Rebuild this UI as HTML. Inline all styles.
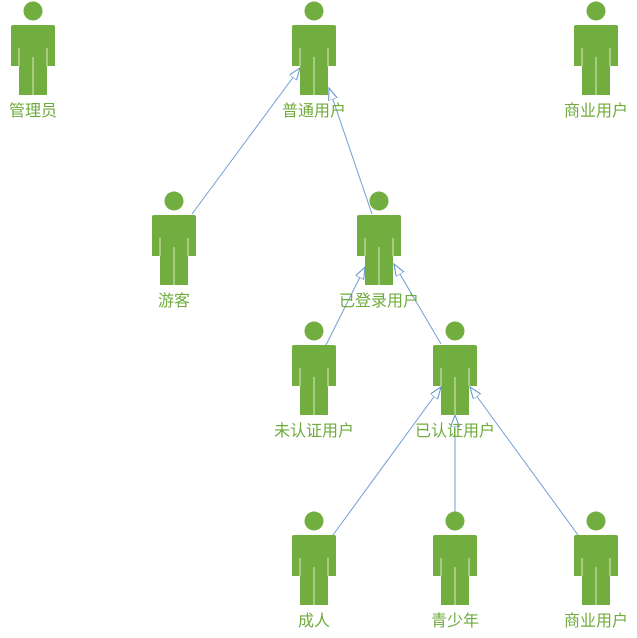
<!DOCTYPE html>
<html><head><style>body{margin:0;background:#fff}svg{display:block}text{font-family:"Liberation Sans","Noto Sans CJK SC",sans-serif;font-size:16px;fill:#6fab3c;text-anchor:middle}</style></head><body>
<svg width="637" height="638" viewBox="0 0 637 638">
<defs>
<g id="a">
<circle cx="0" cy="0" r="9.5" fill="#72ad3f"/>
<path d="M-20,14 H20 Q22,14 22,16 V55 H14 V84 H-14 V55 H-22 V16 Q-22,14 -20,14 Z" fill="#72ad3f"/>
<path d="M-14,37 V55 M14,37 V55 M0,46 V84" stroke="#c9e2b2" stroke-width="1.2"/>
</g>
<marker id="m" markerWidth="14" markerHeight="12" refX="12" refY="4.5" orient="auto" markerUnits="userSpaceOnUse"><path d="M0,0 L12,4.5 L0,9 Z" fill="#fff" stroke="#5b8fc9" stroke-width="1"/></marker>
</defs>
<g stroke="#6f9fd4" stroke-width="1" fill="none" marker-end="url(#m)">
<line x1="192" y1="214" x2="300" y2="68"/>
<line x1="372" y1="214" x2="329" y2="88"/>
<line x1="325" y1="347" x2="365" y2="267"/>
<line x1="441" y1="344" x2="394" y2="264"/>
<line x1="333" y1="535" x2="441" y2="387"/>
<line x1="455" y1="521" x2="455" y2="415"/>
<line x1="578" y1="535" x2="470" y2="387"/>
</g>
<use href="#a" x="33" y="11"/><use href="#a" x="314" y="11"/><use href="#a" x="596" y="11"/>
<use href="#a" x="174" y="201"/><use href="#a" x="379" y="201"/>
<use href="#a" x="314" y="331"/><use href="#a" x="455" y="331"/>
<use href="#a" x="314" y="521"/><use href="#a" x="455" y="521"/><use href="#a" x="596" y="521"/>
<text x="33" y="116">管理员</text><text x="314" y="116">普通用户</text><text x="596" y="116">商业用户</text>
<text x="174" y="306">游客</text><text x="379" y="306">已登录用户</text>
<text x="314" y="436">未认证用户</text><text x="455" y="436">已认证用户</text>
<text x="314" y="626">成人</text><text x="455" y="626">青少年</text><text x="596" y="626">商业用户</text>
</svg>
</body></html>
